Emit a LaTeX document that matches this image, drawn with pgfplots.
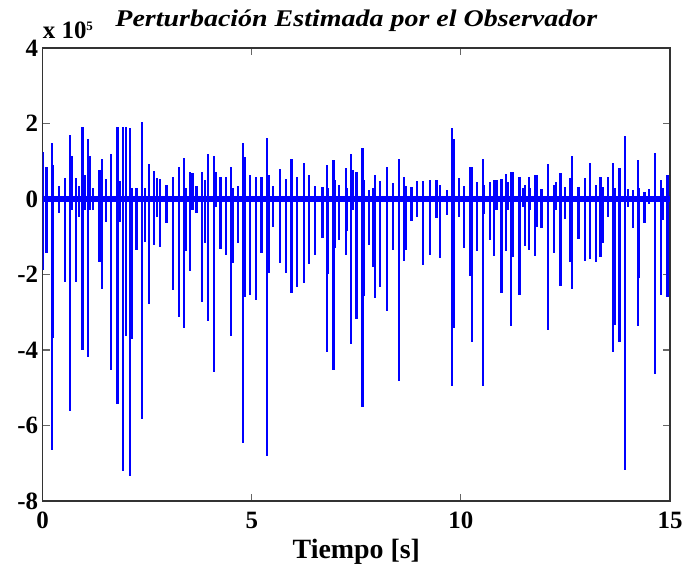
\documentclass[border=0pt]{standalone}
\usepackage{fontspec}
\setmainfont{Liberation Serif}
\usepackage{graphicx}
\usepackage{pgfplots}
\pgfplotsset{compat=1.18}
\usepackage{pgfplotstable}
\definecolor{mblue}{RGB}{0,0,255}
\pgfplotstableread{
t top bot
0.01 1.25 -1.88
0.09 0.85 -1.43
0.22 1.47 -6.64
0.25 0.90 -3.69
0.39 0.34 -0.38
0.53 0.55 -2.21
0.65 1.69 -5.61
0.69 1.14 -0.30
0.79 0.55 -2.19
0.87 0.35 -0.47
0.95 1.91 -4.01
1.00 0.64 -0.30
1.08 1.59 -4.19
1.12 1.14 -0.30
1.20 0.28 -0.29
1.36 0.77 -1.66
1.42 1.05 -2.38
1.51 0.53 -0.62
1.64 1.18 -4.54
1.79 1.91 -5.43
1.84 0.48 -0.60
1.92 1.91 -7.21
1.99 1.91 -3.64
2.08 1.87 -7.33
2.12 0.30 -3.71
2.24 0.28 -1.35
2.38 2.05 -5.83
2.44 0.28 -1.13
2.54 0.92 -2.79
2.66 0.75 -1.22
2.73 0.55 -0.47
2.80 0.53 -1.26
2.96 0.37 -0.64
3.12 0.59 -2.41
3.26 0.86 -3.13
3.38 1.08 -3.42
3.42 0.30 -1.39
3.52 0.72 -1.90
3.58 0.68 -0.30
3.68 0.34 -0.38
3.81 0.72 -2.74
3.88 0.50 -1.17
3.96 1.18 -3.22
4.09 1.14 -4.59
4.14 0.72 -0.20
4.25 0.59 -1.33
4.38 0.57 -1.48
4.51 0.86 -3.64
4.55 0.30 -1.70
4.67 0.34 -1.16
4.79 1.49 -6.46
4.83 1.10 -2.60
4.95 0.64 -2.54
5.10 0.59 -2.67
5.23 0.57 -1.42
5.37 1.62 -6.82
5.41 0.64 -1.97
5.51 0.34 -0.73
5.67 0.79 -1.70
5.81 0.53 -1.97
5.95 1.05 -2.50
6.08 0.57 -2.34
6.25 0.96 -2.23
6.37 0.64 -1.72
6.51 0.34 -1.48
6.69 0.32 -1.04
6.80 0.90 -4.06
6.83 0.30 -2.00
6.95 1.03 -4.54
6.99 0.50 -1.30
7.09 0.37 -1.09
7.25 0.81 -1.48
7.27 0.30 -0.86
7.38 1.18 -3.85
7.41 0.77 -0.30
7.50 0.72 -3.17
7.65 1.36 -5.52
7.68 0.50 -2.58
7.81 0.24 -1.22
7.90 0.30 -1.79
7.94 0.64 -2.63
8.06 0.48 -2.34
8.24 0.86 -2.96
8.38 0.43 -1.35
8.52 1.05 -4.81
8.64 0.57 -1.65
8.68 0.34 -1.35
8.82 0.31 -0.57
8.95 0.48 -0.47
9.10 0.48 -1.75
9.26 0.50 -1.48
9.42 0.50 -0.51
9.50 0.37 -1.56
9.66 0.24 -0.42
9.78 1.87 -4.95
9.83 1.59 -3.42
9.95 0.55 -0.47
10.07 0.34 -1.30
10.22 0.86 -2.03
10.27 0.86 -3.80
10.39 0.46 -1.39
10.52 1.05 -4.95
10.55 0.37 -0.40
10.69 0.46 -1.09
10.79 0.50 -1.51
10.85 0.50 -0.29
10.97 0.53 -2.50
11.08 0.66 -1.39
11.12 0.46 -0.30
11.20 0.72 -3.36
11.24 0.72 -1.54
11.40 0.57 -2.54
11.48 0.28 -0.20
11.53 0.37 -1.24
11.63 0.59 -1.35
11.66 0.30 -0.29
11.77 0.64 -1.50
11.81 0.64 -0.73
11.93 0.26 -0.78
12.09 0.92 -3.47
12.22 0.37 -1.42
12.28 0.46 -0.30
12.38 0.68 -2.30
12.49 0.31 -0.53
12.61 0.55 -1.66
12.66 1.14 -2.38
12.81 0.31 -1.07
12.97 0.55 -1.65
13.09 0.96 -1.59
13.23 0.37 -1.66
13.34 0.57 -1.54
13.40 0.31 -1.16
13.52 0.57 -0.49
13.64 0.96 -4.06
13.67 0.30 -3.34
13.79 0.81 -3.78
13.92 1.67 -7.19
14.00 0.26 -0.20
14.11 0.24 -0.78
14.23 1.03 -3.36
14.25 0.30 -2.09
14.39 0.19 -0.64
14.50 0.26 -0.12
14.64 1.21 -4.63
14.78 0.50 -2.54
14.84 0.30 -0.56
14.92 0.64 -2.60
14.96 0.64 -2.60
}\spikes
\begin{document}
\begin{tikzpicture}
\path[use as bounding box] (0,0) rectangle (686bp,569bp);
\begin{axis}[
  name=ax,
  at={(42.7bp,68bp)}, anchor=south west,
  scale only axis, width=627.3bp, height=453bp,
  xmin=0, xmax=15, ymin=-8, ymax=4,
  xtick={0,5,10,15}, xticklabels={0,5,10,15},
  ytick={-8,-6,-4,-2,0,2,4}, yticklabels={-8,-6,-4,-2,0,2,4},
  scaled y ticks=false,
  tick align=inside, xtick pos=both, ytick pos=both,
  major tick length=7bp,
  axis line style={black!80, line width=1.3bp},
  every tick/.style={black!60, line width=1.1bp},
  ticklabel style={font=\fontsize{25}{25}\selectfont\bfseries},
  xticklabel style={inner sep=0pt, anchor=north, yshift=-10.5bp},
  yticklabel style={inner sep=0pt, anchor=east, xshift=-4.5bp},
  xlabel={Tiempo [s]},
  xlabel style={font=\fontsize{28}{28}\selectfont\bfseries, at={(axis description cs:0.5,0)}, anchor=base, yshift=-57bp, inner sep=0pt},
  title={\scalebox{1.17}[1]{Perturbación Estimada por el Observador}},
  every axis title shift=0pt,
  title style={font=\fontsize{24}{24}\selectfont\bfseries\itshape, at={(axis description cs:0.5,1)}, anchor=base, yshift=21bp, inner sep=0pt},
  clip=true,
]
\addplot[mblue, line width=6.5bp] coordinates {(0,0) (15,0)};
\addplot[ycomb, mblue, line width=2.3bp] table[x=t, y=top] {\spikes};
\addplot[ycomb, mblue, line width=2.3bp] table[x=t, y=bot] {\spikes};
\end{axis}
\node[anchor=base west, inner sep=0pt, font=\fontsize{25}{25}\selectfont\bfseries] at ([yshift=9bp]ax.north west) {x 10\raisebox{8bp}{\fontsize{13}{13}\selectfont 5}};
\end{tikzpicture}
\end{document}
